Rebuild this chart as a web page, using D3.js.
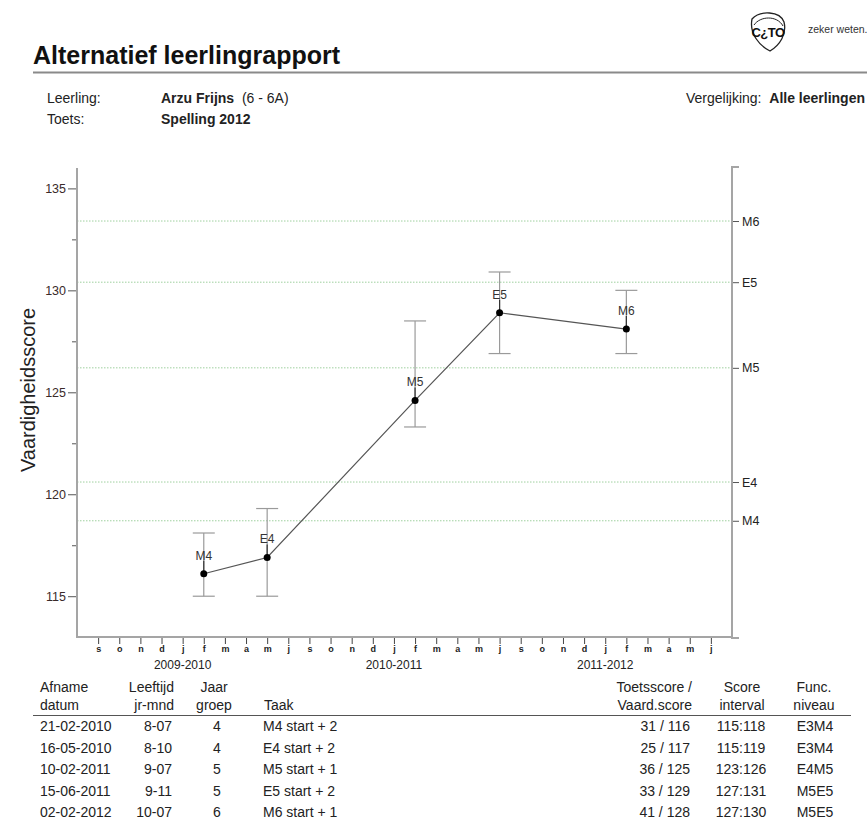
<!DOCTYPE html>
<html>
<head>
<meta charset="utf-8">
<script src="https://cdn.jsdelivr.net/npm/d3@7"></script>
<style>
  body { margin: 0; background: #fff; }
  svg { display: block; font-family: "Liberation Sans", Arial, sans-serif; }
</style>
</head>
<body>
<div id="chart"></div>
<script>
// school years and their months (july/august not shown)
var schoolYears = ['2009-2010', '2010-2011', '2011-2012']
var monthLabels = ['s', 'o', 'n', 'd', 'j', 'f', 'm', 'a', 'm', 'j']

// measurements
var taken = ['M4', 'E4', 'M5', 'E5', 'M6']
var takenYear = [0, 0, 1, 1, 2]
var takenMonth = [5, 8, 5, 9, 5]
var scores = [116.1, 116.9, 124.6, 128.9, 128.1]
var lows = [115, 115, 123.3, 126.9, 126.9]
var highs = [118.1, 119.3, 128.5, 130.9, 130.0]

// norm levels on the right axis
var levelNames = ['M4', 'E4', 'M5', 'E5', 'M6']
var levelValues = [118.7, 120.6, 126.2, 130.4, 133.4]

// table below the chart
var colDates = ['21-02-2010', '16-05-2010', '10-02-2011', '15-06-2011', '02-02-2012']
var colAges = ['8-07', '8-10', '9-07', '9-11', '10-07']
var colGroups = ['4', '4', '5', '5', '6']
var colTasks = ['M4 start + 2', 'E4 start + 2', 'M5 start + 1', 'E5 start + 2', 'M6 start + 1']
var colScores = ['31 / 116', '25 / 117', '36 / 125', '33 / 129', '41 / 128']
var colIntervals = ['115:118', '115:119', '123:126', '127:131', '127:130']
var colLevels = ['E3M4', 'E3M4', 'E4M5', 'M5E5', 'M5E5']

var W = 867, H = 821
var pLeft = 77, pRight = 732, pTop = 168, pBottom = 637

var svg = d3.select('#chart').append('svg')
  .attr('width', W)
  .attr('height', H)

// ---- header
svg.append('text')
  .attr('x', 33).attr('y', 64)
  .attr('font-size', 25).attr('font-weight', 'bold').attr('fill', '#111')
  .text('Alternatief leerlingrapport')
svg.append('line')
  .attr('x1', 33).attr('x2', 867).attr('y1', 72.5).attr('y2', 72.5)
  .attr('stroke', '#8a8a8a').attr('stroke-width', 2)

// logo
var logo = svg.append('g').attr('transform', 'translate(768,31)')
logo.append('path')
  .attr('d', 'M-16,-12 C-8,-21 12,-20 16,-9 C19,3 12,14 2,20 C-8,15 -19,3 -16,-12 Z')
  .attr('fill', 'none').attr('stroke', '#222').attr('stroke-width', 1.3)
logo.append('path')
  .attr('d', 'M-14,-6 C-8,-15 9,-16 15,-5')
  .attr('fill', 'none').attr('stroke', '#222').attr('stroke-width', 1)
logo.append('text')
  .attr('x', 0).attr('y', 6).attr('text-anchor', 'middle')
  .attr('font-size', 13).attr('font-weight', 'bold').attr('fill', '#111')
  .attr('letter-spacing', -0.5)
  .text('C¿TO')
svg.append('text')
  .attr('x', 808).attr('y', 33)
  .attr('font-size', 10.5).attr('fill', '#333')
  .text('zeker weten.')

// info rows
function info(x, y, txt, bold){
  return svg.append('text').attr('x', x).attr('y', y)
    .attr('font-size', 14).attr('fill', '#222')
    .attr('font-weight', bold ? 'bold' : 'normal')
    .text(txt)
}
info(47, 103, 'Leerling:')
var nm = info(161, 103, 'Arzu Frijns', true)
nm.append('tspan').attr('font-weight', 'normal').text('\u00a0 (6 - 6A)')
info(47, 124, 'Toets:')
info(161, 124, 'Spelling 2012', true)
var vg = svg.append('text').attr('x', 865).attr('y', 103).attr('text-anchor', 'end')
  .attr('font-size', 14).attr('fill', '#222')
vg.append('tspan').text('Vergelijking:\u00a0 ')
vg.append('tspan').attr('font-weight', 'bold').text('Alle leerlingen')

// ---- scales
var monthKeys = []
schoolYears.forEach(function(y, yi){
  monthLabels.forEach(function(m, mi){ monthKeys.push(yi + '-' + mi) })
})
var x = d3.scalePoint().domain(monthKeys).range([pLeft, pRight]).padding(1)
var y = d3.scaleLinear().domain([113, 136]).range([pBottom, pTop])

// norm lines
svg.append('g').selectAll('line').data(levelValues).enter().append('line')
  .attr('x1', pLeft).attr('x2', pRight)
  .attr('y1', function(d){ return y(d) }).attr('y2', function(d){ return y(d) })
  .attr('stroke', '#9fd09f').attr('stroke-width', 1).attr('stroke-dasharray', '1.5,1.5')

// left axis
var yTicks = d3.range(115, 135.1, 2.5)
var gLeft = svg.append('g').attr('transform', 'translate(' + pLeft + ',0)')
  .call(d3.axisLeft(y).tickValues(yTicks).tickSize(0).tickFormat(''))
gLeft.select('.domain').remove()
gLeft.selectAll('.tick line').attr('x2', function(d){ return d % 5 === 0 ? -9 : -5 })
  .attr('stroke', '#555')
gLeft.selectAll('.tick text')
  .attr('x', -11).attr('font-size', 12.5).attr('fill', '#3a2a2a')
  .attr('font-family', '"Liberation Sans", Arial, sans-serif')
  .text(function(d){ return d % 5 === 0 ? d : '' })
svg.append('line').attr('x1', pLeft).attr('x2', pLeft).attr('y1', pTop).attr('y2', pBottom + 1)
  .attr('stroke', '#a5a5a5').attr('stroke-width', 2)

// right axis
var gRight = svg.append('g').attr('transform', 'translate(' + pRight + ',0)')
  .call(d3.axisRight(y).tickValues(levelValues).tickSize(7).tickPadding(3)
    .tickFormat(function(d, i){ return levelNames[i] }))
gRight.select('.domain').remove()
gRight.selectAll('.tick line').attr('stroke', '#555')
gRight.selectAll('.tick text').attr('font-size', 12.5).attr('fill', '#222')
  .attr('font-family', '"Liberation Sans", Arial, sans-serif')
svg.append('path')
  .attr('d', 'M' + (pRight + 7) + ',' + (pTop - 1) + 'H' + pRight + 'V' + (pBottom + 1) + 'H' + (pRight + 7))
  .attr('fill', 'none').attr('stroke', '#a5a5a5').attr('stroke-width', 2)

// bottom axis
var gBottom = svg.append('g').attr('transform', 'translate(0,' + pBottom + ')')
  .call(d3.axisBottom(x).tickSize(7).tickPadding(2)
    .tickFormat(function(d){ return monthLabels[+d.split('-')[1]] }))
gBottom.select('.domain').remove()
gBottom.selectAll('.tick line').attr('stroke', '#444')
gBottom.selectAll('.tick text').attr('font-size', 9).attr('fill', '#222')
  .attr('font-weight', 'bold')
  .attr('font-family', '"Liberation Sans", Arial, sans-serif')
svg.append('line').attr('x1', pLeft - 1).attr('x2', pRight + 1).attr('y1', pBottom).attr('y2', pBottom)
  .attr('stroke', '#a5a5a5').attr('stroke-width', 2)

svg.append('g').selectAll('text').data(schoolYears).enter().append('text')
  .attr('x', function(d, i){ return x(i + '-4') })
  .attr('y', pBottom + 32)
  .attr('text-anchor', 'middle').attr('font-size', 12).attr('fill', '#222')
  .text(function(d){ return d })

// y title
svg.append('text')
  .attr('transform', 'translate(35,390) rotate(-90)')
  .attr('text-anchor', 'middle').attr('font-size', 20).attr('fill', '#222')
  .text('Vaardigheidsscore')

// ---- data
var pts = taken.map(function(t, i){
  return { name: t, key: takenYear[i] + '-' + takenMonth[i], v: scores[i], lo: lows[i], hi: highs[i] }
})

var gErr = svg.append('g').attr('stroke', '#9a9a9a').attr('stroke-width', 1.2)
pts.forEach(function(p){
  var cx = x(p.key)
  gErr.append('line').attr('x1', cx).attr('x2', cx).attr('y1', y(p.lo)).attr('y2', y(p.hi))
  gErr.append('line').attr('x1', cx - 11).attr('x2', cx + 11).attr('y1', y(p.lo)).attr('y2', y(p.lo))
  gErr.append('line').attr('x1', cx - 11).attr('x2', cx + 11).attr('y1', y(p.hi)).attr('y2', y(p.hi))
})

svg.append('path').datum(pts)
  .attr('d', d3.line().x(function(d){ return x(d.key) }).y(function(d){ return y(d.v) }))
  .attr('fill', 'none').attr('stroke', '#555').attr('stroke-width', 1.2)

svg.append('g').selectAll('line').data(pts).enter().append('line')
  .attr('x1', function(d){ return x(d.key) }).attr('x2', function(d){ return x(d.key) })
  .attr('y1', function(d){ return y(d.v) }).attr('y2', function(d){ return y(d.v) - 13 })
  .attr('stroke', '#333').attr('stroke-width', 1.2)

svg.append('g').selectAll('circle').data(pts).enter().append('circle')
  .attr('cx', function(d){ return x(d.key) }).attr('cy', function(d){ return y(d.v) })
  .attr('r', 3.5).attr('fill', '#000')

svg.append('g').selectAll('text').data(pts).enter().append('text')
  .attr('x', function(d){ return x(d.key) }).attr('y', function(d){ return y(d.v) - 14 })
  .attr('text-anchor', 'middle').attr('font-size', 12).attr('fill', '#333')
  .text(function(d){ return d.name })

// ---- table
var rowY = [731, 752.5, 774, 795.5, 817]
var tbl = svg.append('g').attr('font-size', 14).attr('fill', '#222')
function head(x, anchor, l1, l2){
  if(l1) tbl.append('text').attr('x', x).attr('y', 692).attr('text-anchor', anchor).text(l1)
  tbl.append('text').attr('x', x).attr('y', 710).attr('text-anchor', anchor).text(l2)
}
head(40, 'start', 'Afname', 'datum')
head(174, 'end', 'Leeftijd', 'jr-mnd')
head(214, 'middle', 'Jaar', 'groep')
head(264, 'start', null, 'Taak')
head(692, 'end', 'Toetsscore /', 'Vaard.score')
head(742, 'middle', 'Score', 'interval')
head(814, 'middle', 'Func.', 'niveau')
svg.append('line').attr('x1', 33).attr('x2', 851).attr('y1', 715.5).attr('y2', 715.5)
  .attr('stroke', '#555').attr('stroke-width', 1.2)

function col(values, x, anchor){
  tbl.append('g').selectAll('text').data(values).enter().append('text')
    .attr('x', x).attr('y', function(d, i){ return rowY[i] })
    .attr('text-anchor', anchor).text(function(d){ return d })
}
col(colDates, 40, 'start')
col(colAges, 172, 'end')
col(colGroups, 217, 'middle')
col(colTasks, 263, 'start')
col(colScores, 690, 'end')
col(colIntervals, 741, 'middle')
col(colLevels, 815, 'middle')
</script>
</body>
</html>
